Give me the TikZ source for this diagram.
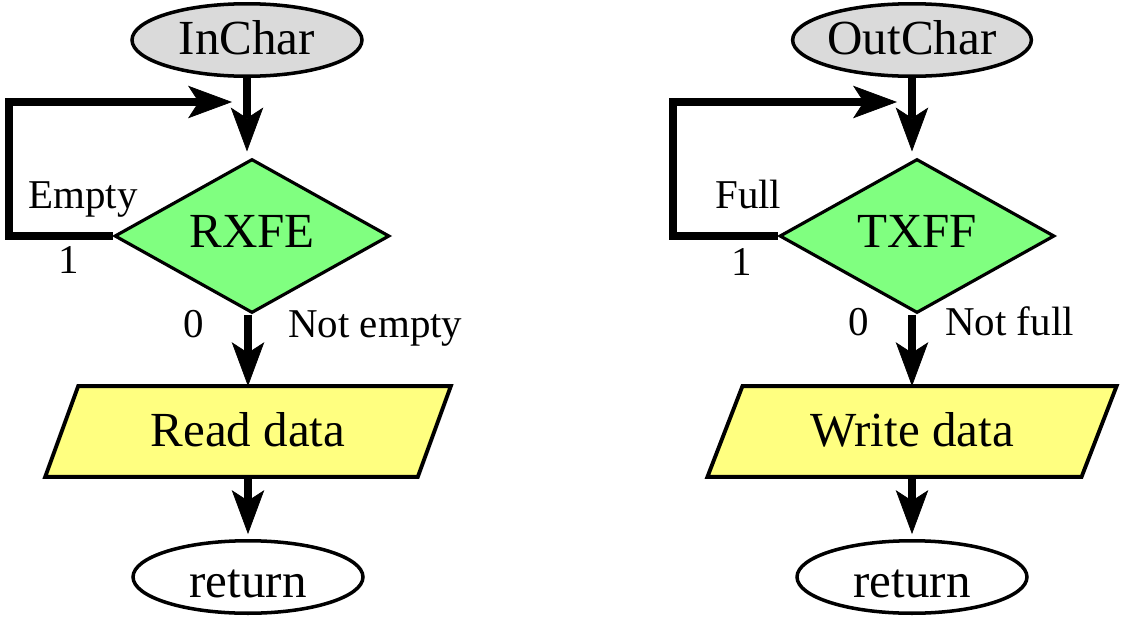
\documentclass[tikz,border=0pt]{standalone}
\usepackage{fontspec}
\setmainfont{Liberation Serif}
\usetikzlibrary{shapes.geometric,arrows.meta,backgrounds,calc}
\definecolor{termgray}{RGB}{218,218,218}
\definecolor{decgreen}{RGB}{128,255,128}
\definecolor{ioyellow}{RGB}{255,255,128}
\begin{document}
\begin{tikzpicture}[x=0.02cm,y=-0.02cm,
  big/.style={font=\fontsize{27.9}{30}\selectfont},
  small/.style={font=\fontsize{23.3}{26}\selectfont, inner sep=0pt},
  term/.style={ellipse, draw, line width=2pt, minimum width=4.6cm, minimum height=1.45cm, inner sep=0pt, big, text height=17pt, text depth=0pt},
  dec/.style={diamond, draw, line width=1.8pt, fill=decgreen, minimum width=5.5cm, minimum height=3.08cm, inner sep=0pt, big, text height=13.1pt, text depth=0pt},
  io/.style={rectangle, inner sep=0pt, minimum height=1.8cm, big, text height=16.7pt, text depth=0pt},
  ioshape/.style={draw, line width=2.2pt, fill=ioyellow, line join=miter},
  flow/.style={line width=4.3pt, line join=miter, -{Stealth[length=25pt,width=18.5pt,inset=6pt,line width=0.4pt]}},
]
\useasboundingbox (0,0) rectangle (1137,626);

% ---------- left chart ----------
\node[term, fill=termgray] (ic) at (247,40) {InChar};
\node[dec] (rx) at (252,236) {RXFE};
\node[io, minimum width=7.44cm] (rd) at (248,431.5) {Read data};
\node[term, fill=white, text height=22.9pt] (rt1) at (248,577) {return};
\begin{scope}[on background layer]
  \draw[ioshape] ($(rd.south west)+(-16.5,0)$) -- ($(rd.south east)+(-16.5,0)$)
     -- ($(rd.north east)+(16.5,0)$) -- ($(rd.north west)+(16.5,0)$) -- cycle;
\end{scope}
\coordinate (lc) at (9,102);
\coordinate (ltip) at (232,102);
\draw[flow, shorten >=3.4pt] (ic.south) -- (ic.south |- rx.north);
\draw[flow] (rx.west) -| (lc) -- (ltip);
\draw[flow] (rd.north |- rx.south) -- (rd.north);
\draw[flow, shorten >=2.8pt] (rd.south) -- (rt1.north);
\node[small, anchor=base west] (le) at (28,208) {Empty};
\node[small, anchor=base] (l1) at (69,273) {1};
\node[small, anchor=base] (l0) at (194,337) {0};
\node[small, anchor=base west] (lne) at (288,337) {Not empty};

% ---------- right chart ----------
\node[term, fill=termgray] (oc) at (912,40) {OutChar};
\node[dec] (tx) at (917,236) {TXFF};
\node[io, minimum width=7.47cm] (wr) at (912,431.5) {Write data};
\node[term, fill=white, text height=22.9pt] (rt2) at (912,577) {return};
\begin{scope}[on background layer]
  \draw[ioshape] ($(wr.south west)+(-17.5,0)$) -- ($(wr.south east)+(-17.5,0)$)
     -- ($(wr.north east)+(17.5,0)$) -- ($(wr.north west)+(17.5,0)$) -- cycle;
\end{scope}
\coordinate (rc) at (673,102);
\coordinate (rtip) at (897,102);
\draw[flow, shorten >=3.4pt] (oc.south) -- (oc.south |- tx.north);
\draw[flow] (tx.west) -| (rc) -- (rtip);
\draw[flow] (wr.north |- tx.south) -- (wr.north);
\draw[flow, shorten >=2.8pt] (wr.south) -- (rt2.north);
\node[small, anchor=base west] (rf) at (715,208) {Full};
\node[small, anchor=base] (r1) at (742,275) {1};
\node[small, anchor=base] (r0) at (859,335) {0};
\node[small, anchor=base west] (rnf) at (945,335) {Not full};
\end{tikzpicture}
\end{document}
